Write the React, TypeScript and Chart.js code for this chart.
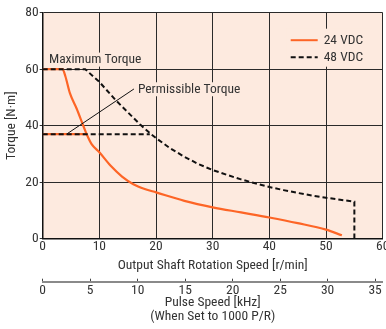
import React, { useEffect, useRef } from 'react';
import { Chart, registerables } from 'chart.js';

Chart.register(...registerables);

// ---- data ----
const speed24 = [0, 3.5, 4, 4.8, 6, 7.2, 7.8, 8.6, 10, 12, 14, 16, 18, 20, 25, 30, 35, 40, 45, 50, 52.8];
const torque24 = [60, 60, 57.5, 51.5, 46, 39.8, 36.8, 33.6, 30.6, 25.8, 22, 19.3, 17.6, 16.4, 13.4, 11.1, 9.3, 7.5, 5.5, 3.2, 1.2];
const speed48 = [0, 7.5, 10, 12.8, 15, 17.2, 19, 20, 22.5, 25, 27.5, 30, 32.5, 35, 37.5, 40, 42.5, 45, 47.5, 50, 52.5, 55, 55];
const torque48 = [60, 60, 55.5, 49.2, 44.8, 40.4, 37.2, 35.6, 32, 29, 26.4, 24.3, 22.6, 21, 19.6, 18.3, 17.2, 16.2, 15.3, 14.5, 13.8, 13.1, 0];
const permSpeed24 = [0, 7.8];
const permTorque24 = [37, 37];
const permSpeed48 = [0, 18.9];
const permTorque48 = [37, 37];
const speedTicks = [0, 10, 20, 30, 40, 50, 60];
const torqueTicks = [0, 20, 40, 60, 80];
const pulseTicks = [0, 5, 10, 15, 20, 25, 30, 35];
const pulseMax = 35.8;
const seriesNames = ['24 VDC', '48 VDC'];

// ---- annotation anchors (data units) ----
const maxLabelAt = { x: 1.1, y: 63.4, text: 'Maximum Torque' };
const permLabelAt = { x: 16.8, y: 52.9, text: 'Permissible Torque' };
const permArrow = { x1: 4.2, y1: 37, x2: 16.1, y2: 53 };

const FONT = "'Roboto Condensed', 'Liberation Sans', sans-serif";
const FS = 13.5;
const TXT = '#333333';
const ORANGE = '#fd6526';
const PEACH = '#fdeadf';

const xy = (xs: number[], ys: number[]) => xs.map((x, i) => ({ x, y: ys[i] }));

const overlayPlugin = {
  id: 'overlay',
  beforeDraw(chart: any) {
    const { ctx, chartArea: a } = chart;
    ctx.save();
    ctx.fillStyle = PEACH;
    ctx.fillRect(a.left, a.top, a.right - a.left, a.bottom - a.top);
    ctx.restore();
  },
  beforeDatasetsDraw(chart: any) {
    const { ctx, chartArea: a, scales } = chart;
    const sx = scales.x, sy = scales.y;
    ctx.save();
    ctx.font = `${FS}px ${FONT}`;
    ctx.textBaseline = 'middle';
    ctx.textAlign = 'left';
    const label = (l: { x: number; y: number; text: string }) => {
      const px = sx.getPixelForValue(l.x);
      const py = sy.getPixelForValue(l.y);
      const w = ctx.measureText(l.text).width;
      ctx.fillStyle = PEACH;
      ctx.fillRect(px - 1, py - 7, w + 2, 14);
      ctx.fillStyle = TXT;
      ctx.fillText(l.text, px, py);
    };
    label(maxLabelAt);
    label(permLabelAt);
    // legend
    const lx = a.right - 92;
    const ly = a.top + 16;
    ctx.fillStyle = PEACH;
    ctx.fillRect(lx - 4, ly, 86, 38);
    const rows = [
      { y: ly + 11.5, color: ORANGE, dash: [] as number[] },
      { y: ly + 28.5, color: '#111', dash: [5, 3] },
    ];
    rows.forEach((r, i) => {
      ctx.beginPath();
      ctx.setLineDash(r.dash);
      ctx.strokeStyle = r.color;
      ctx.lineWidth = 2;
      ctx.moveTo(lx, r.y);
      ctx.lineTo(lx + 27, r.y);
      ctx.stroke();
      ctx.setLineDash([]);
      ctx.fillStyle = TXT;
      ctx.fillText(seriesNames[i], lx + 33, r.y + 0.5);
    });
    ctx.restore();
  },
  afterDatasetsDraw(chart: any) {
    const { ctx, scales } = chart;
    const sx = scales.x, sy = scales.y;
    ctx.save();
    ctx.strokeStyle = '#111';
    ctx.lineWidth = 1;
    ctx.beginPath();
    ctx.moveTo(sx.getPixelForValue(permArrow.x1), sy.getPixelForValue(permArrow.y1));
    ctx.lineTo(sx.getPixelForValue(permArrow.x2), sy.getPixelForValue(permArrow.y2));
    ctx.stroke();
    ctx.restore();
  },
};

export default function App() {
  const ref = useRef<HTMLCanvasElement | null>(null);
  useEffect(() => {
    if (!ref.current) return;
    const zeroPad = (s: any) => {
      s.paddingLeft = 0;
      s.paddingRight = 0;
      s.paddingTop = 0;
      s.paddingBottom = 0;
    };
    const font = { family: FONT, size: FS, lineHeight: 1 };
    const chart = new Chart(ref.current, {
      type: 'line',
      data: {
        datasets: [
          {
            label: seriesNames[1],
            data: xy(speed48, torque48),
            borderColor: '#111',
            borderWidth: 2,
            borderDash: [5, 3],
            pointRadius: 0,
            tension: 0,
            order: 0,
          },
          {
            label: seriesNames[1] + ' permissible',
            data: xy(permSpeed48, permTorque48),
            borderColor: '#111',
            borderWidth: 2,
            borderDash: [5, 3],
            pointRadius: 0,
            order: 0,
          },
          {
            label: seriesNames[0],
            data: xy(speed24, torque24),
            borderColor: ORANGE,
            borderWidth: 2.2,
            pointRadius: 0,
            cubicInterpolationMode: 'monotone',
            order: 1,
          },
          {
            label: seriesNames[0] + ' permissible',
            data: xy(permSpeed24, permTorque24),
            borderColor: ORANGE,
            borderWidth: 2.2,
            pointRadius: 0,
            order: 1,
          },
        ],
      },
      options: {
        responsive: false,
        animation: false,
        events: [],
        layout: { padding: { top: 12.7, right: 3.3, left: 0, bottom: 0 } },
        plugins: { legend: { display: false }, tooltip: { enabled: false } },
        scales: {
          x: {
            type: 'linear',
            position: 'bottom',
            min: speedTicks[0],
            max: speedTicks[speedTicks.length - 1],
            afterBuildTicks: (s: any) => { s.ticks = speedTicks.map((v) => ({ value: v })); },
            grid: { color: '#2a2a2a', lineWidth: 1, drawTicks: false },
            border: { color: '#111', width: 1.5 },
            ticks: { color: TXT, font, padding: 1.5, maxRotation: 0 },
            title: {
              display: true,
              text: 'Output Shaft Rotation Speed [r/min]',
              color: TXT,
              font,
              padding: { top: 0, bottom: 9.7 },
            },
            afterFit: (s: any) => { s.height = 43; zeroPad(s); },
          },
          x2: {
            type: 'linear',
            position: 'bottom',
            min: 0,
            max: pulseMax,
            afterBuildTicks: (s: any) => { s.ticks = pulseTicks.map((v) => ({ value: v })); },
            grid: { drawOnChartArea: false, color: '#444', tickLength: -3, lineWidth: 1 },
            border: { color: '#8a8a8a', width: 2 },
            ticks: { color: TXT, font, padding: 5, maxRotation: 0 },
            title: {
              display: true,
              text: ['Pulse Speed [kHz]', '(When Set to 1000 P/R)'],
              color: TXT,
              font,
              padding: { top: 0, bottom: 6 },
            },
            afterFit: (s: any) => { s.height = 47.3; zeroPad(s); },
          },
          y: {
            type: 'linear',
            min: torqueTicks[0],
            max: torqueTicks[torqueTicks.length - 1],
            afterBuildTicks: (s: any) => { s.ticks = torqueTicks.map((v) => ({ value: v })); },
            grid: { color: '#2a2a2a', lineWidth: 1, tickLength: 3, tickColor: '#333' },
            border: { color: '#111', width: 1.5 },
            ticks: { color: TXT, font, padding: 1 },
            title: {
              display: true,
              text: 'Torque [N·m]',
              color: TXT,
              font,
              padding: { top: 4.7, bottom: 0 },
            },
            afterFit: (s: any) => { s.width = 42.7; zeroPad(s); },
          },
        },
      },
      plugins: [overlayPlugin],
    } as any);
    return () => chart.destroy();
  }, []);
  return (
    <div style={{ position: 'absolute', left: 0, top: 0, width: 386, height: 329, background: '#fff' }}>
      <canvas ref={ref} width={386} height={329} style={{ display: 'block', width: 386, height: 329 }} />
    </div>
  );
}
